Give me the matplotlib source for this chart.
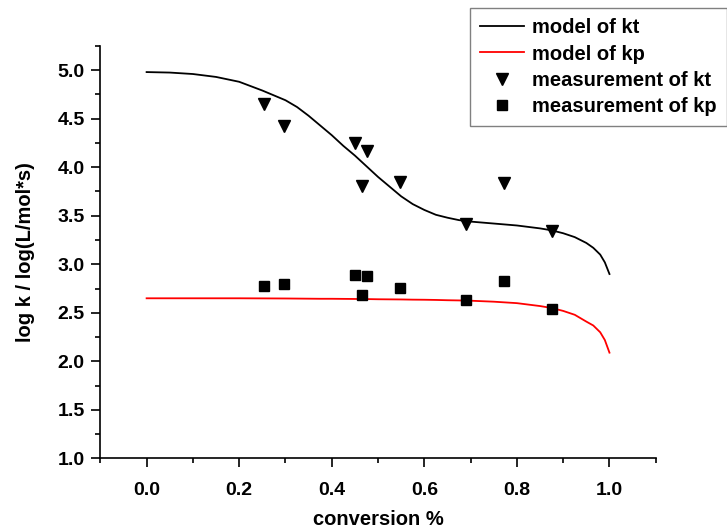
import numpy as np
import matplotlib.pyplot as plt
from matplotlib.ticker import MultipleLocator

plt.rcParams['font.family'] = ['Liberation Sans', 'DejaVu Sans']
plt.rcParams['font.weight'] = 'bold'

# model curves
model_x = [0.0, 0.05, 0.1, 0.15, 0.2, 0.25, 0.3, 0.325, 0.35, 0.375, 0.4, 0.425,
           0.45, 0.475, 0.5, 0.525, 0.55, 0.575, 0.6, 0.625, 0.65, 0.675, 0.7,
           0.75, 0.8, 0.85, 0.875, 0.9, 0.925, 0.95, 0.965, 0.98, 0.99, 1.0]
model_kt = [4.98, 4.975, 4.96, 4.93, 4.88, 4.79, 4.69, 4.62, 4.53, 4.43, 4.33, 4.22,
            4.12, 4.01, 3.90, 3.80, 3.70, 3.62, 3.56, 3.51, 3.48, 3.455, 3.44,
            3.42, 3.40, 3.37, 3.35, 3.32, 3.28, 3.22, 3.17, 3.10, 3.02, 2.90]
model_kp = [2.65, 2.65, 2.65, 2.65, 2.65, 2.649, 2.648, 2.647, 2.646, 2.645, 2.645, 2.644,
            2.643, 2.642, 2.64, 2.639, 2.638, 2.636, 2.635, 2.633, 2.63, 2.628, 2.625,
            2.615, 2.60, 2.57, 2.55, 2.52, 2.48, 2.41, 2.37, 2.30, 2.22, 2.09]

# measurements
meas_x = [0.254, 0.296, 0.450, 0.477, 0.465, 0.548, 0.691, 0.772, 0.875]
meas_kt = [4.65, 4.42, 4.25, 4.17, 3.81, 3.85, 3.42, 3.84, 3.34]
meas_kp = [2.78, 2.80, 2.89, 2.88, 2.68, 2.76, 2.63, 2.83, 2.54]

fig = plt.figure(figsize=(7.27, 5.29), dpi=100)
ax = fig.add_axes([0.138, 0.1333, 0.764, 0.780])

ax.plot(model_x, model_kt, color="black", lw=1.3, label="model of kt")
ax.plot(model_x, model_kp, color="red", lw=1.3, label="model of kp")
ax.plot(meas_x, meas_kt, "v", color="black", ms=8, label="measurement of kt")
ax.plot(meas_x, meas_kp, "s", color="black", ms=6.5, label="measurement of kp")

ax.set_xlim(-0.1, 1.1)
ax.set_ylim(1.0, 5.25)
ax.xaxis.set_minor_locator(MultipleLocator(0.1))
ax.yaxis.set_major_locator(MultipleLocator(0.5))
ax.yaxis.set_minor_locator(MultipleLocator(0.25))
ax.set_xticks([0.0, 0.2, 0.4, 0.6, 0.8, 1.0])
ax.tick_params(which="major", length=6.7, width=1.2, labelsize=14)
ax.tick_params(axis="y", which="major", pad=4.5)
ax.tick_params(axis="x", which="major", pad=10)
ax.tick_params(which="minor", length=3.6, width=1.2)
ax.spines["top"].set_visible(False)
ax.spines["right"].set_visible(False)
for s in ["left", "bottom"]:
    ax.spines[s].set_linewidth(1.2)

ax.set_xlabel("conversion %", fontsize=14.5, fontweight="bold", labelpad=8)
ax.set_ylabel("log k / log(L/mol*s)", fontsize=14.5, fontweight="bold", labelpad=16)

fig.legend(loc="upper left", bbox_to_anchor=(470 / 727, 1 - 8 / 529),
           prop={"size": 14.5, "weight": "bold"}, frameon=True, fancybox=False,
           edgecolor="#808080", framealpha=1, handlelength=2.2, handletextpad=0.38,
           labelspacing=0.37, borderaxespad=0, borderpad=0.5)

fig.savefig("out.png", dpi=100)
